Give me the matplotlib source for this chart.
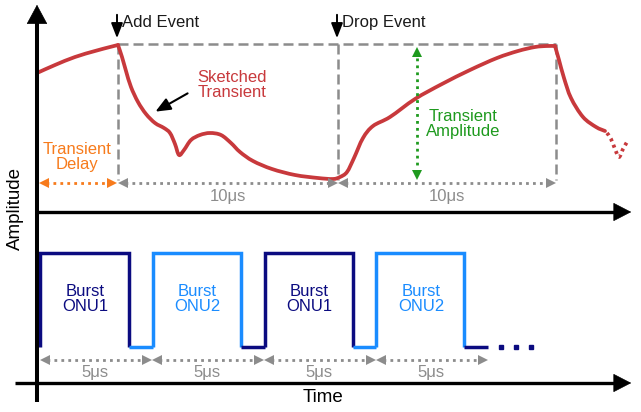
"""Sketch of a burst-mode transient: amplitude vs time for two alternating ONUs."""

import matplotlib
matplotlib.use("Agg")
import matplotlib.pyplot as plt
from matplotlib.patches import PathPatch
from matplotlib.path import Path

plt.rcParams["font.family"] = ["Liberation Sans", "DejaVu Sans"]

# ---- values (canvas pixels, y grows downward) ----
W, H = 641, 412

# sketched transient (red), three solid pieces split at the sharp corners
rise_x = [37, 55, 75, 95, 110, 118]
rise_y = [73, 65, 57, 51, 47, 45]
drop_x = [118, 122, 126, 131, 138, 146, 155, 164, 170, 175, 179, 184, 191, 200,
          210, 221, 231, 240, 253, 272, 295, 318, 333, 340, 347, 354, 363, 373,
          390, 415, 442, 470, 497, 518, 535, 547, 555]
drop_y = [45, 57, 71, 87, 102, 114, 123, 128, 133, 144, 155, 150, 140, 135,
          133, 135, 143, 152, 161, 169, 175, 178, 179, 177, 172, 158, 138, 126,
          117, 99, 84, 70, 58, 51, 47, 46, 46]
fall_x = [555, 559, 564, 571, 583, 596, 605]
fall_y = [46, 60, 78, 98, 117, 127, 131]
# dotted continuation
tail_x = [607, 611, 615, 619, 623, 627]
tail_y = [133, 139, 149, 157, 149, 142]

event_x = [118, 338, 556]          # add event, drop event, end of window
event_labels = ["Add Event", "Drop Event"]
window_top = 44
period_label = "10μs"

burst_top, burst_low = 253, 347
onu1_bursts = [(40, 129), (265, 353)]
onu2_bursts = [(153, 241), (376, 464)]
slot_edges = [40, 152, 264, 376, 488]
slot_label = "5μs"
burst_names = ["Burst\nONU1", "Burst\nONU2", "Burst\nONU1", "Burst\nONU2"]

RED = "#c8393c"
GRAY = "#8c8c8c"
ORANGE = "#f77b1c"
GREEN = "#1e9a1e"
NAVY = "#0b0b80"
LIGHT = "#1a8cff"

fig = plt.figure(figsize=(W / 100, H / 100), dpi=100)
ax = fig.add_axes([0, 0, 1, 1])
ax.set_xlim(0, W)
ax.set_ylim(H, 0)
ax.axis("off")


def smooth_path(xs, ys):
    """Cubic Bezier path passing through the given points (Catmull-Rom handles)."""
    pts = list(zip(xs, ys))
    verts = [pts[0]]
    codes = [Path.MOVETO]
    n = len(pts)
    for i in range(n - 1):
        p0 = pts[i - 1] if i > 0 else pts[i]
        p1, p2 = pts[i], pts[i + 1]
        p3 = pts[i + 2] if i + 2 < n else pts[i + 1]
        c1 = (p1[0] + (p2[0] - p0[0]) / 6, p1[1] + (p2[1] - p0[1]) / 6)
        c2 = (p2[0] - (p3[0] - p1[0]) / 6, p2[1] - (p3[1] - p1[1]) / 6)
        verts += [c1, c2, p2]
        codes += [Path.CURVE4] * 3
    return Path(verts, codes)


def tri(x, y, direction, color, size=10):
    """Filled triangle with its tip at (x, y)."""
    h = size / 2
    if direction == "left":
        pts = [(x, y), (x + size, y - h), (x + size, y + h)]
    elif direction == "right":
        pts = [(x, y), (x - size, y - h), (x - size, y + h)]
    elif direction == "up":
        pts = [(x, y), (x - h, y + size), (x + h, y + size)]
    else:
        pts = [(x, y), (x - h, y - size), (x + h, y - size)]
    ax.fill([p[0] for p in pts], [p[1] for p in pts], color=color, lw=0, zorder=4)


def dotted_span(x0, x1, y, color):
    ax.plot([x0 + 7, x1 - 7], [y, y], color=color, lw=2.0,
            linestyle=(0, (1, 1.5)), zorder=3)
    tri(x0, y, "left", color)
    tri(x1, y, "right", color)


# ---- axes with arrow heads ----
ax.plot([37, 37], [18, 402], color="black", lw=2.9, solid_capstyle="butt", zorder=5)
ax.annotate("", xy=(37, 2), xytext=(37, 24),
            arrowprops=dict(arrowstyle="-|>,head_length=1.3,head_width=0.7",
                            mutation_scale=10, color="black", lw=0.5))
for y0, x0 in [(212, 37), (383, 15)]:
    ax.plot([x0, 620], [y0, y0], color="black", lw=2.4, solid_capstyle="butt", zorder=5)
    ax.annotate("", xy=(634, y0), xytext=(614, y0),
                arrowprops=dict(arrowstyle="-|>,head_length=1.2,head_width=0.62",
                                mutation_scale=10, color="black", lw=0.5))

ax.text(15, 208, "Amplitude", rotation=90, ha="center", va="center", fontsize=13.5)
ax.text(323, 397, "Time", ha="center", va="center", fontsize=13.5)

# ---- observation window (gray dashed) ----
ax.plot([event_x[0], event_x[-1]], [window_top, window_top], color=GRAY, lw=1.8,
        linestyle=(0, (4, 2)), zorder=2)
for ex in event_x:
    ax.plot([ex, ex], [window_top, 180], color=GRAY, lw=1.8,
            linestyle=(0, (4, 2)), zorder=2)

for i in range(len(event_x) - 1):
    dotted_span(event_x[i], event_x[i + 1], 183, GRAY)
    ax.text((event_x[i] + event_x[i + 1]) / 2, 196, period_label, color=GRAY,
            ha="center", va="center", fontsize=12)

# transient delay
dotted_span(39, event_x[0] - 1, 183, ORANGE)
ax.text(77, 157, "Transient\nDelay", color=ORANGE, ha="center", va="center",
        fontsize=12, linespacing=1.0)

# event markers
for ex, lab in zip(event_x[:2], event_labels):
    ax.annotate("", xy=(ex - 1, 41), xytext=(ex - 1, 12),
                arrowprops=dict(arrowstyle="-|>,head_length=0.9,head_width=0.35",
                                mutation_scale=10, color="black", lw=1.4))
    ax.text(ex + 4, 22, lab, ha="left", va="center", fontsize=12, color="#1a1a1a")

# ---- transient curve ----
for xs, ys in [(rise_x, rise_y), (drop_x, drop_y), (fall_x, fall_y)]:
    ax.add_patch(PathPatch(smooth_path(xs, ys), fill=False, edgecolor=RED, lw=2.7,
                           joinstyle="round", capstyle="round", zorder=3))
ax.add_patch(PathPatch(smooth_path(tail_x, tail_y), fill=False, edgecolor=RED,
                       lw=2.7, linestyle=(0, (0.8, 1.0)), zorder=3))

ax.text(232, 85, "Sketched\nTransient", color=RED, ha="center", va="center",
        fontsize=12, linespacing=1.0)
ax.annotate("", xy=(153, 113), xytext=(190, 92),
            arrowprops=dict(arrowstyle="-|>,head_length=0.9,head_width=0.38",
                            mutation_scale=10, color="black", lw=1.5))

# transient amplitude
ax.plot([417, 417], [58, 169], color=GREEN, lw=2.0, linestyle=(0, (1, 1.5)), zorder=3)
tri(417, 47, "up", GREEN)
tri(417, 180, "down", GREEN)
ax.text(463, 124, "Transient\nAmplitude", color=GREEN, ha="center", va="center",
        fontsize=12, linespacing=1.0)

# ---- bursts ----
kw = dict(lw=2.5, solid_joinstyle="miter", solid_capstyle="butt", zorder=3)
for a, b in onu1_bursts:
    ax.plot([a, a, b, b], [burst_low, burst_top, burst_top, burst_low], color=NAVY, **kw)
for k, (a, b) in enumerate(onu2_bursts):
    ax.plot([a, a, b, b], [burst_low, burst_top, burst_top, burst_low], color=LIGHT, **kw)
    # idle gap before this burst belongs to ONU2, gap after it to ONU1
    ax.plot([onu1_bursts[k][1], a], [burst_low, burst_low], color=LIGHT, **kw)
    nxt = onu1_bursts[k + 1][0] if k + 1 < len(onu1_bursts) else b + 24
    ax.plot([b, nxt], [burst_low, burst_low], color=NAVY, **kw)
ax.plot([501, 516, 531], [burst_low] * 3, linestyle="none", marker="s",
        markersize=2.2, color=NAVY)

for i in range(len(slot_edges) - 1):
    dotted_span(slot_edges[i], slot_edges[i + 1], 360, GRAY)
    cx = (slot_edges[i] + slot_edges[i + 1]) / 2
    ax.text(cx - 1, 372, slot_label, color=GRAY, ha="center", va="center", fontsize=12)
    ax.text(cx - 11, 299, burst_names[i], color=NAVY if i % 2 == 0 else LIGHT,
            ha="center", va="center", fontsize=12, linespacing=1.0)

fig.savefig("out.png", dpi=100)
